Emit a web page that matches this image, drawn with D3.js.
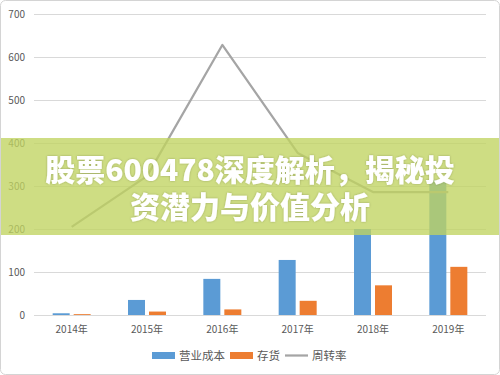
<!DOCTYPE html>
<html><head><meta charset="utf-8">
<script src="https://cdn.jsdelivr.net/npm/d3@7"></script>
<style>html,body{margin:0;padding:0;background:#fff;}svg{display:block;}</style>
</head><body>
<script>
const categories = ["2014年","2015年","2016年","2017年","2018年","2019年"];
const costValues = [4, 35, 84, 128, 200, 314];       // 营业成本
const stockValues = [2, 8, 13, 33, 69, 112];         // 存货
const turnoverValues = [205, 323, 628, 377, 286, 286]; // 周转率
const yTicks = [0,100,200,300,400,500,600,700];
const seriesNames = ["营业成本","存货","周转率"];
const titleLines = ["股票600478深度解析，揭秘投","资潜力与价值分析"];

const W=500,H=375;
const svg=d3.select("body").append("svg").attr("width",W).attr("height",H);
svg.append("rect").attr("x",0).attr("y",0).attr("width",W).attr("height",H).attr("fill","#fff");

const x=d3.scaleBand().domain(categories).range([34,486]);
const y=d3.scaleLinear().domain([0,700]).range([315,14]);
const x1=d3.scaleBand().domain(["cost","stock"]).range([-19,19]).paddingInner(4/21);
const font="'Noto Sans CJK SC','Microsoft YaHei',sans-serif";

// gridlines
svg.append("g").selectAll("line").data(yTicks).join("line")
  .attr("x1",34).attr("x2",486).attr("y1",d=>y(d)+0.5).attr("y2",d=>y(d)+0.5)
  .attr("stroke","#d9d9d9").attr("stroke-width",1);

// y labels
svg.append("g").selectAll("text").data(yTicks).join("text")
  .attr("x",25).attr("y",d=>y(d)).attr("dy","0.35em").attr("text-anchor","end")
  .attr("font-family",font).attr("font-size",10).attr("fill","#595959").text(d=>d);

// x labels
svg.append("g").selectAll("text").data(categories).join("text")
  .attr("x",d=>x(d)+x.bandwidth()/2).attr("y",329).attr("dy","0.35em").attr("text-anchor","middle")
  .attr("font-family",font).attr("font-size",10).attr("fill","#595959").text(d=>d);

// bars
const g=svg.append("g");
g.selectAll("rect.cost").data(categories).join("rect").attr("class","cost")
  .attr("x",(d)=>x(d)+x.bandwidth()/2+x1("cost")).attr("width",x1.bandwidth())
  .attr("y",(d,i)=>y(costValues[i])).attr("height",(d,i)=>y(0)-y(costValues[i]))
  .attr("fill","#5b9bd5");
g.selectAll("rect.stock").data(categories).join("rect").attr("class","stock")
  .attr("x",(d)=>x(d)+x.bandwidth()/2+x1("stock")).attr("width",x1.bandwidth())
  .attr("y",(d,i)=>y(stockValues[i])).attr("height",(d,i)=>y(0)-y(stockValues[i]))
  .attr("fill","#ed7d31");

// line
const line=d3.line().x((d,i)=>x(categories[i])+x.bandwidth()/2).y(d=>y(d));
svg.append("path").datum(turnoverValues).attr("d",line)
  .attr("fill","none").attr("stroke","#a5a5a5").attr("stroke-width",2.25).attr("stroke-linejoin","round");

// legend
const lg=svg.append("g").attr("font-family",font).attr("font-size",11.5).attr("fill","#595959");
lg.append("rect").attr("x",152).attr("y",352).attr("width",23).attr("height",7).attr("fill","#5b9bd5");
lg.append("text").attr("x",179).attr("y",355.5).attr("dy","0.35em").text(seriesNames[0]);
lg.append("rect").attr("x",230).attr("y",352).attr("width",23).attr("height",7).attr("fill","#ed7d31");
lg.append("text").attr("x",257).attr("y",355.5).attr("dy","0.35em").text(seriesNames[1]);
lg.append("line").attr("x1",285).attr("x2",308).attr("y1",355.5).attr("y2",355.5).attr("stroke","#a5a5a5").attr("stroke-width",2.25);
lg.append("text").attr("x",312).attr("y",355.5).attr("dy","0.35em").text(seriesNames[2]);

// overlay band
svg.append("rect").attr("x",0).attr("y",138).attr("width",W).attr("height",97)
  .attr("fill","rgba(192,212,96,0.78)");
const defs=svg.append("defs");
const f=defs.append("filter").attr("id","sh").attr("x","-10%").attr("y","-20%").attr("width","120%").attr("height","140%");
f.append("feDropShadow").attr("dx",0).attr("dy",0).attr("stdDeviation",1).attr("flood-color","#000").attr("flood-opacity",0.25);
svg.append("g").selectAll("text").data(titleLines).join("text")
  .attr("x",250).attr("y",(d,i)=>181+i*37).attr("text-anchor","middle")
  .attr("font-family",font).attr("font-weight",900).attr("font-size",30)
  .attr("fill","#fff").attr("filter","url(#sh)").text(d=>d);

// border
svg.append("rect").attr("x",0.5).attr("y",0.5).attr("width",W-1).attr("height",H-1).attr("rx",5)
  .attr("fill","none").attr("stroke","#d4d4d4");
</script>
</body></html>
